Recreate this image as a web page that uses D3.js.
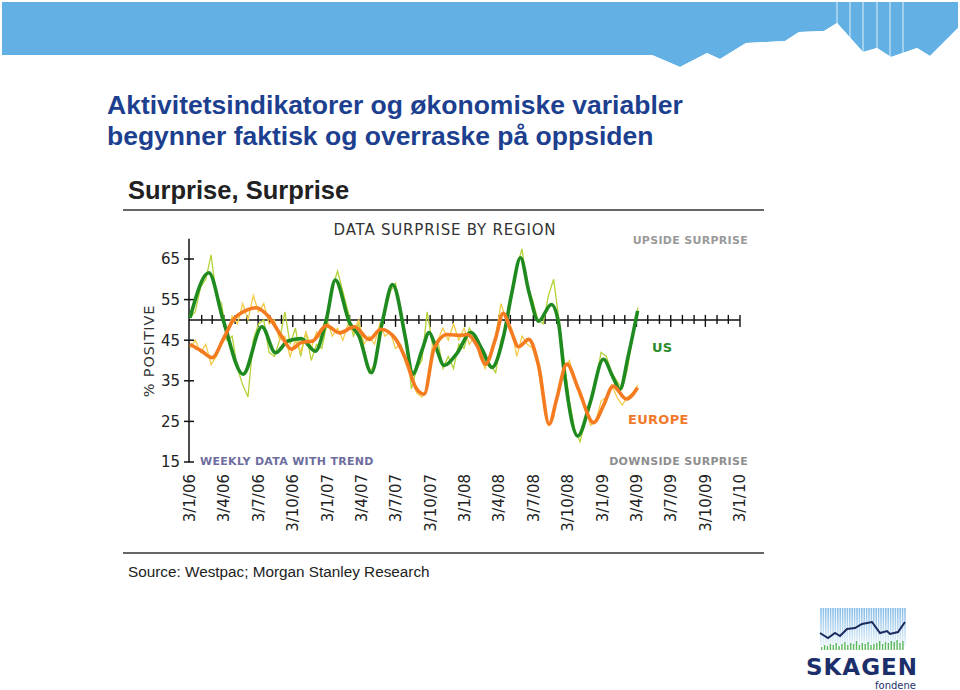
<!DOCTYPE html>
<html>
<head>
<meta charset="utf-8">
<script src="https://cdn.jsdelivr.net/npm/d3@7"></script>
<style>
  html, body { margin: 0; padding: 0; background: #ffffff; }
  svg { display: block; }
</style>
</head>
<body>
<svg id="chart" width="960" height="690"></svg>
<script>
// ---------------- DATA ----------------
const titleLines = ["Aktivitetsindikatorer og økonomiske variabler", "begynner faktisk og overraske på oppsiden"];
const chartHeading = "Surprise, Surprise";
const chartSubtitle = "DATA SURPRISE BY REGION";
const sourceText = "Source: Westpac; Morgan Stanley Research";
const yTickValues = [15, 25, 35, 45, 55, 65];
const xTickLabels = ["3/1/06","3/4/06","3/7/06","3/10/06","3/1/07","3/4/07","3/7/07","3/10/07",
                     "3/1/08","3/4/08","3/7/08","3/10/08","3/1/09","3/4/09","3/7/09","3/10/09","3/1/10"];

// Trend lines (week offsets from 3 Jan 2006, % positive)
const usTrendWeeks = [0, 7.2, 12.6, 20.1, 27.3, 32.4, 37.2, 42.2, 47.6, 51.7, 55.2, 60.5, 64.2, 68.9, 73.1, 76.8,
  81.9, 84.4, 88.2, 90.7, 93.2, 96.4, 101.4, 106.5, 110.8, 114.6, 119, 122.2, 125.4, 128.5, 132.3, 137.1,
  139.8, 141.7, 147.1, 151.8, 156.8, 160.6, 163.1, 166.3, 169.8];
const usTrend = [50.5, 61.6, 50, 36.6, 48.3, 41.9, 44.8, 45.4, 42.3, 50, 59.8, 49.3, 46, 37, 50, 58.7,
  45.2, 36.6, 42.7, 46.9, 43.6, 38.8, 41.9, 46.9, 42.7, 38.3, 46, 56.7, 65.3, 57, 49.7, 53.8,
  49.3, 38.7, 21.4, 29.6, 40.3, 35.8, 32.9, 41.1, 52.2];

const euTrendWeeks = [0, 4.4, 8.4, 12.6, 16.4, 20.8, 25.2, 29.6, 34.7, 38.4, 42.2, 46.6, 51.7, 56.7, 62.4, 68,
  72.4, 78.1, 81.9, 85.7, 88.8, 92.6, 97.6, 102.7, 105.2, 109, 112.1, 115.9, 118.8, 121.6, 124.7, 128.5,
  132.3, 136.3, 139.2, 143, 147.4, 153.1, 156.8, 160.6, 165.6, 169.8];
const euTrend = [44, 42.3, 40.7, 45.2, 50, 52.2, 53, 51, 46, 42.8, 44.4, 44.8, 48.6, 46.8, 48.3, 45.2,
  47.7, 45.2, 40.3, 33.3, 31.7, 42.8, 46.4, 46.2, 46.4, 43.6, 39.1, 45.2, 51.6, 47.7, 43.4, 45.2,
  38.7, 24.3, 30.5, 39.1, 32.9, 24.7, 28.8, 33.7, 30.5, 33.3];

// Raw data, read every second week from 3 Jan 2006
const usRaw = [50.5, 52, 58, 60, 66, 56, 54, 45, 46, 38, 34, 31, 45, 49, 50, 42, 41, 45, 52, 44,
  48, 41, 47, 40, 44, 43, 49, 58, 62, 57, 52, 46, 49, 43, 37, 39, 45, 52, 57, 59,
  52, 46, 33, 38, 40, 52, 44, 45, 38, 41, 38, 44, 43, 48, 46, 44, 39, 39, 37, 45,
  48, 57, 63, 67.5, 58, 55, 50, 49, 56, 60, 50, 40, 30, 23, 20, 25, 29, 35, 42, 41,
  37, 35, 33, 38, 46, 53];
const euRaw = [43, 45, 42, 44, 39, 41, 44, 46, 51, 49, 54, 50, 56, 52, 54, 49, 50, 45, 46, 41,
  45, 42, 47, 43, 47, 45, 50, 46, 48, 45, 49, 47, 50, 44, 46, 44, 49, 46, 47, 43,
  44, 39, 36, 32, 31, 33, 44, 45, 48, 45, 49, 45, 48, 44, 46, 41, 38, 42, 46, 54,
  50, 48, 41, 46, 44, 43, 39, 30, 24, 26, 34, 38, 40, 35, 31, 29, 24, 25, 30, 31,
  34, 31, 29, 31, 32, 34];

// Decorative banner outline and logo line (not data)
const bannerEdge = [[2,2],[958,2],[958,28],[930,56],[917,48],[891,57],[877,48],[863,52],[837,23],[824,31],
  [799,32],[785,41],[746,43],[720,59],[707,53],[680,67],[652,55],[2,55]];
const bannerStripes = [837, 850, 863, 877, 890, 903];
const logoLine = [[820,633],[828,638],[835,633],[840,636],[847,629],[855,628],[862,624],[872,622],[880,633],[887,631],[890,634],[898,632],[905,622]];
const logoBars = [3,5,4,6,5,7,4,6,8,5,7,6,9,5,7,6,8,5,6,7,9,6,8,7,9,8,10,7,9];

// ---------------- DRAW ----------------
const svg = d3.select("#chart");
const titleColor = "#1d3f8f";
const green = "#1f8a1f", greenRaw = "#b3d236";
const orange = "#f47b20", orangeRaw = "#f3cb48";

// banner
svg.append("path")
  .attr("d", d3.line()(bannerEdge) + "Z")
  .attr("fill", "#63b1e4");
svg.selectAll("line.bstripe").data(bannerStripes).join("line")
  .attr("x1", d => d).attr("x2", d => d).attr("y1", 2).attr("y2", 60)
  .attr("stroke", "#ffffff").attr("stroke-width", 1).attr("opacity", 0.8);
svg.append("path")
  .attr("d", "M652,55 L680,67 L707,53 L720,59 L746,43 L785,41 L799,32 L824,31 L837,23 L863,52 L877,48 L891,57 L917,48 L930,56 L958,28 L958,70 L652,70 Z")
  .attr("fill", "#ffffff");

// main title
svg.append("g").selectAll("text").data(titleLines).join("text")
  .attr("x", 107).attr("y", (d, i) => 114 + i * 31)
  .attr("font-family", "Liberation Sans, Arial, sans-serif")
  .attr("font-weight", "bold").attr("font-size", 26.5)
  .attr("fill", titleColor)
  .text(d => d);

// chart heading and rules
svg.append("text").attr("x", 128).attr("y", 199)
  .attr("font-family", "Liberation Sans, Arial, sans-serif").attr("font-weight", "bold")
  .attr("font-size", 25.5).attr("fill", "#222").text(chartHeading);
svg.append("line").attr("x1", 123).attr("x2", 764).attr("y1", 210).attr("y2", 210)
  .attr("stroke", "#333").attr("stroke-width", 1.5);
svg.append("line").attr("x1", 123).attr("x2", 764).attr("y1", 553).attr("y2", 553)
  .attr("stroke", "#333").attr("stroke-width", 1.5);
svg.append("text").attr("x", 128).attr("y", 577)
  .attr("font-family", "Liberation Sans, Arial, sans-serif")
  .attr("font-size", 15.3).attr("fill", "#222").text(sourceText);

// scales
const parseD = d3.timeParse("%d/%m/%y");
const tickDates = xTickLabels.map(parseD);
const start = tickDates[0];
const x = d3.scaleTime().domain([tickDates[0], tickDates[tickDates.length - 1]]).range([190, 740]);
const y = d3.scaleLinear().domain([15, 70]).range([462, 238.7]);
const wk = w => d3.timeDay.offset(start, Math.round(w * 7));

const vf = "DejaVu Sans, Verdana, sans-serif";

// subtitle
svg.append("text").attr("x", 445).attr("y", 235).attr("text-anchor", "middle")
  .attr("font-family", vf).attr("font-size", 15).attr("letter-spacing", 0.8)
  .attr("fill", "#333").text(chartSubtitle);

// y axis
const yAxisG = svg.append("g").attr("transform", "translate(189,0)");
yAxisG.append("line").attr("x1", 0).attr("x2", 0).attr("y1", y(70)).attr("y2", y(15))
  .attr("stroke", "#111").attr("stroke-width", 1.5);
yAxisG.selectAll("line.yt").data(yTickValues).join("line")
  .attr("x1", -5).attr("x2", 5).attr("y1", d => y(d)).attr("y2", d => y(d))
  .attr("stroke", "#111").attr("stroke-width", 1.5);
yAxisG.selectAll("text").data(yTickValues).join("text")
  .attr("x", -9).attr("y", d => y(d)).attr("dy", "0.36em")
  .attr("text-anchor", "end").attr("font-family", vf).attr("font-size", 15)
  .attr("fill", "#222").text(d => d);
svg.append("text")
  .attr("transform", "translate(154,351) rotate(-90)")
  .attr("text-anchor", "middle").attr("font-family", vf).attr("font-size", 14.5)
  .attr("letter-spacing", 0.8).attr("fill", "#333").text("% POSITIVE");

// horizontal axis at 50 with monthly ticks
const months = d3.range(0, 49).map(i => d3.timeMonth.offset(start, i));
const xAxisG = svg.append("g");
xAxisG.append("line").attr("x1", 189).attr("x2", x(tickDates[tickDates.length - 1]))
  .attr("y1", y(50)).attr("y2", y(50)).attr("stroke", "#111").attr("stroke-width", 1.5);
xAxisG.selectAll("line.mt").data(months.slice(1)).join("line")
  .attr("x1", d => x(d)).attr("x2", d => x(d))
  .attr("y1", (d, i) => y(50) - 5)
  .attr("y2", (d, i) => y(50) + ((i + 1) % 3 === 0 ? 7 : 4))
  .attr("stroke", "#111").attr("stroke-width", 1.4);

// x tick labels
svg.append("g").selectAll("text").data(xTickLabels).join("text")
  .attr("transform", (d, i) => `translate(${x(tickDates[i])},474) rotate(-90)`)
  .attr("text-anchor", "end").attr("dy", "0.36em")
  .attr("font-family", vf).attr("font-size", 15).attr("fill", "#222")
  .text(d => d);

// annotations
const ann = [
  {t: "UPSIDE SURPRISE", x: 748, y: 244, c: "#9a9a9a", a: "end"},
  {t: "DOWNSIDE SURPRISE", x: 748, y: 465, c: "#8e8e8e", a: "end"},
  {t: "WEEKLY DATA WITH TREND", x: 200, y: 465, c: "#6e6e9e", a: "start"},
  {t: "US", x: 652, y: 352, c: "#2a8a2a", a: "start", s: 13},
  {t: "EUROPE", x: 628, y: 424, c: "#f07a2a", a: "start", s: 13}
];
svg.append("g").selectAll("text").data(ann).join("text")
  .attr("x", d => d.x).attr("y", d => d.y).attr("text-anchor", d => d.a)
  .attr("font-family", vf).attr("font-weight", "bold")
  .attr("font-size", d => d.s || 11).attr("letter-spacing", 0.3)
  .attr("fill", d => d.c).text(d => d.t);

// lines
const rawLine = d3.line().x((d, i) => x(wk(i * 2))).y(d => y(d));
const trendLine = d3.line().x(d => x(wk(d[0]))).y(d => y(d[1])).curve(d3.curveMonotoneX);

svg.append("path").datum(usRaw).attr("d", rawLine)
  .attr("fill", "none").attr("stroke", greenRaw).attr("stroke-width", 1.3);
svg.append("path").datum(euRaw).attr("d", rawLine)
  .attr("fill", "none").attr("stroke", orangeRaw).attr("stroke-width", 1.3);
svg.append("path").datum(usTrendWeeks.map((w, i) => [w, usTrend[i]])).attr("d", trendLine)
  .attr("fill", "none").attr("stroke", green).attr("stroke-width", 3.6).attr("stroke-linejoin", "round");
svg.append("path").datum(euTrendWeeks.map((w, i) => [w, euTrend[i]])).attr("d", trendLine)
  .attr("fill", "none").attr("stroke", orange).attr("stroke-width", 3.6).attr("stroke-linejoin", "round");

// logo
const logo = svg.append("g");
const defs = svg.append("defs");
const grad = defs.append("linearGradient").attr("id", "lg").attr("gradientUnits", "userSpaceOnUse")
  .attr("x1", 0).attr("x2", 0).attr("y1", 608).attr("y2", 646);
grad.append("stop").attr("offset", "0%").attr("stop-color", "#86bce6");
grad.append("stop").attr("offset", "100%").attr("stop-color", "#e8f3fb");
logo.selectAll("line.ls").data(d3.range(821, 906, 2.4)).join("line")
  .attr("x1", d => d).attr("x2", d => d).attr("y1", 608).attr("y2", 646)
  .attr("stroke", "url(#lg)").attr("stroke-width", 1.6);
logo.selectAll("rect.lb").data(logoBars).join("rect")
  .attr("x", (d, i) => 821 + i * 2.9).attr("width", 1.4)
  .attr("y", d => 650 - d).attr("height", d => d).attr("fill", "#5cb85c");
logo.append("path").attr("d", d3.line()(logoLine)).attr("fill", "none")
  .attr("stroke", "#1a2a5e").attr("stroke-width", 2);
logo.append("text").attr("x", 862).attr("y", 675).attr("text-anchor", "middle")
  .attr("font-family", "DejaVu Sans, sans-serif").attr("font-weight", "bold")
  .attr("font-size", 23).attr("letter-spacing", 1).attr("fill", "#1c2f6b").text("SKAGEN");
logo.append("text").attr("x", 916).attr("y", 689).attr("text-anchor", "end")
  .attr("font-family", "DejaVu Sans, sans-serif")
  .attr("font-size", 10).attr("fill", "#1c2f6b").text("fondene");
</script>
</body>
</html>
